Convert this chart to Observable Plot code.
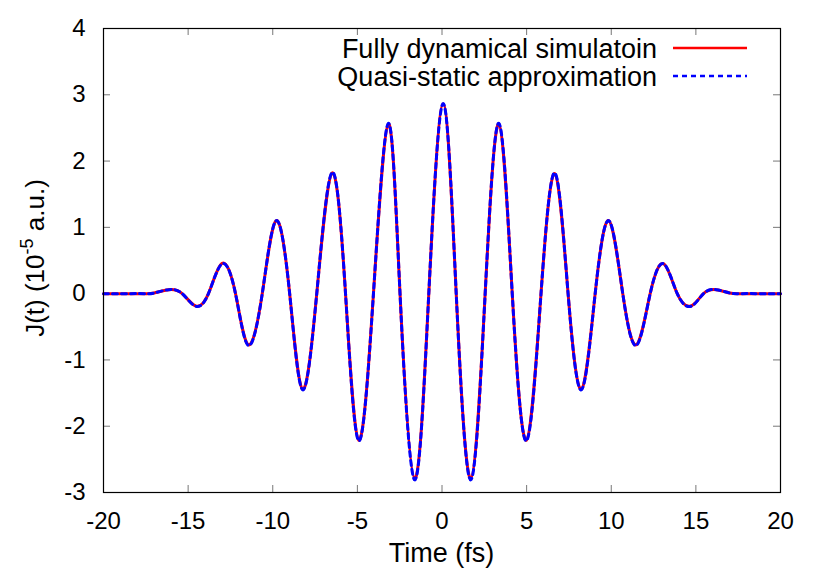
<!DOCTYPE html>
<html>
<head>
<meta charset="utf-8">
<script src="https://cdn.jsdelivr.net/npm/d3@7"></script>
<script src="https://cdn.jsdelivr.net/npm/@observablehq/plot@0.6"></script>
<style>
  html, body { margin: 0; padding: 0; background: #fff; }
  #chart svg { display: block; }
</style>
</head>
<body>
<div id="chart"></div>
<script>
// ---- data ----
const time = [-20, -18.8, -17.6, -17.0, -16.15, -15.35, -14.56, -13.8, -12.99, -12.2, -11.45, -10.62, -9.80, -9.0, -8.24, -7.4, -6.49, -5.7, -4.92, -4.05, -3.17, -2.48, -1.61, -0.78, 0.07, 0.84, 1.70, 2.55, 3.36, 4.15, 4.99, 5.85, 6.67, 7.45, 8.24, 9.05, 9.86, 10.68, 11.49, 12.3, 13.1, 13.9, 14.72, 15.45, 16.2, 17.0, 17.6, 18.8, 20];
const fullyDynamical = [0, 0, 0, 0.01, 0.06, 0, -0.186, 0, 0.457, 0, -0.77, 0, 1.10, 0, -1.44, 0, 1.82, 0, -2.21, 0, 2.56, 0, -2.79, 0, 2.86, 0, -2.79, 0, 2.56, 0, -2.21, 0, 1.81, 0, -1.44, 0, 1.10, 0, -0.77, 0, 0.45, 0, -0.186, 0, 0.06, 0.01, 0, 0, 0];
const quasiStatic = [0, 0, 0, 0.01, 0.06, 0, -0.19, 0, 0.45, 0, -0.78, 0, 1.10, 0, -1.45, 0, 1.83, 0, -2.22, 0, 2.57, 0, -2.81, 0, 2.87, 0, -2.81, 0, 2.57, 0, -2.22, 0, 1.82, 0, -1.45, 0, 1.10, 0, -0.78, 0, 0.45, 0, -0.19, 0, 0.06, 0.01, 0, 0, 0];
const xTicks = [-20, -15, -10, -5, 0, 5, 10, 15, 20];
const yTicks = [-3, -2, -1, 0, 1, 2, 3, 4];
const seriesNames = ["Fully dynamical simulatoin", "Quasi-static approximation"];
const xLabel = "Time (fs)";
const yLabelParts = ["J(t) (10", "-5", " a.u.)"];

// ---- build tables ----
const redData = time.map((t, i) => ({t, j: fullyDynamical[i]}));
const blueData = time.map((t, i) => ({t, j: quasiStatic[i]}));

const font = "'Liberation Sans', Arial, Helvetica, sans-serif";
const W = 830, H = 581, mL = 103, mR = 50, mT = 28, mB = 89;
const innerW = W - mL - mR, innerH = H - mT - mB;
const tickLen = 7;
const tickColor = "#777";

const plot = Plot.plot({
  width: W, height: H,
  marginLeft: mL, marginRight: mR, marginTop: mT, marginBottom: mB,
  style: {fontFamily: font, fontSize: "24px", color: "#000", background: "#fff"},
  x: {domain: [-20, 20]},
  y: {domain: [-3, 4]},
  marks: [
    Plot.axisX(xTicks, {tickSize: 0, tickPadding: 19, fontSize: 24, label: null, tickFormat: d => String(d)}),
    Plot.axisY(yTicks, {tickSize: 0, tickPadding: 18, fontSize: 24, label: null, tickFormat: d => String(d)}),
    Plot.ruleX(xTicks, {x: d => d, insetTop: innerH - tickLen, stroke: tickColor}),
    Plot.ruleX(xTicks, {x: d => d, insetBottom: innerH - tickLen, stroke: tickColor}),
    Plot.ruleY(yTicks, {y: d => d, insetRight: innerW - tickLen, stroke: tickColor}),
    Plot.ruleY(yTicks, {y: d => d, insetLeft: innerW - tickLen, stroke: tickColor}),
    Plot.line(redData, {x: "t", y: "j", stroke: "#ff0000", strokeWidth: 3, curve: "natural"}),
    Plot.line(blueData, {x: "t", y: "j", stroke: "#0000ff", strokeWidth: 3, strokeDasharray: "5,4", curve: "natural"}),
    Plot.frame({stroke: "#000", strokeWidth: 1.2})
  ]
});

const svg = d3.select(plot);
const xs = plot.scale("x"), ys = plot.scale("y");

// x-axis title
svg.append("text")
  .attr("x", (xs.apply(-20) + xs.apply(20)) / 2)
  .attr("y", 562)
  .attr("text-anchor", "middle")
  .attr("font-family", font)
  .attr("font-size", 27)
  .attr("fill", "#000")
  .text(xLabel);

// y-axis title with superscript
const yl = svg.append("text")
  .attr("transform", `translate(44,${(ys.apply(-3) + ys.apply(4)) / 2 - 2}) rotate(-90)`)
  .attr("text-anchor", "middle")
  .attr("font-family", font)
  .attr("font-size", 26)
  .attr("fill", "#000");
yl.append("tspan").text(yLabelParts[0]);
yl.append("tspan").attr("dy", -11).attr("font-size", 18).text(yLabelParts[1]);
yl.append("tspan").attr("dy", 11).text(yLabelParts[2]);

// legend
const legendRows = [
  {name: seriesNames[0], color: "#ff0000", dash: null, y: 48},
  {name: seriesNames[1], color: "#0000ff", dash: "5,4", y: 76}
];
for (const r of legendRows) {
  svg.append("text")
    .attr("x", 657).attr("y", r.y + 10)
    .attr("text-anchor", "end")
    .attr("font-family", font).attr("font-size", 27).attr("fill", "#000")
    .text(r.name);
  const ln = svg.append("line")
    .attr("x1", 673).attr("x2", 747).attr("y1", r.y).attr("y2", r.y)
    .attr("stroke", r.color).attr("stroke-width", 2.6);
  if (r.dash) ln.attr("stroke-dasharray", r.dash);
}

document.getElementById("chart").appendChild(plot);
</script>
</body>
</html>
